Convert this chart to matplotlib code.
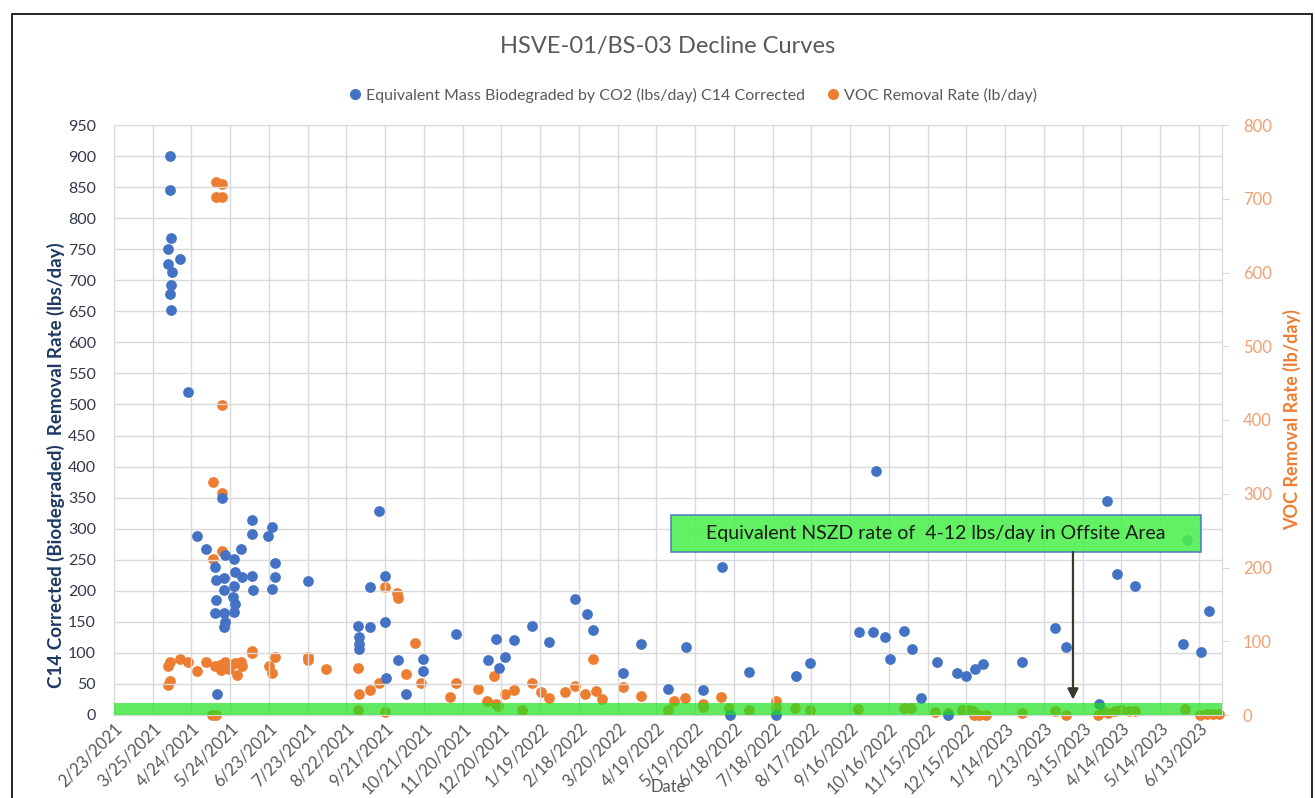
import datetime as dt
import matplotlib
matplotlib.use("Agg")
import matplotlib.pyplot as plt
from matplotlib.ticker import MultipleLocator, FuncFormatter
from matplotlib.patches import Rectangle
from matplotlib.lines import Line2D

plt.rcParams['font.family'] = ['Lato', 'DejaVu Sans']

# ---------------- data ----------------
base_date = dt.date(2021, 2, 23)          # first x tick (day 0)
x_max_days = 858                           # right end of the date axis
tick_step_days = 30

title = "HSVE-01/BS-03 Decline Curves"
co2_label = "Equivalent Mass Biodegraded by CO2 (lbs/day) C14 Corrected"
voc_label = "VOC Removal Rate (lb/day)"
left_ylabel = "C14 Corrected (Biodegraded)  Removal Rate (lbs/day)"
right_ylabel = "VOC Removal Rate (lb/day)"
xlabel = "Date"
note_text = "Equivalent NSZD rate of  4-12 lbs/day in Offsite Area"

# days since base_date, CO2 biodegradation (lbs/day, left axis)
co2_days = [43, 43, 44, 42, 51, 42, 45, 44, 43, 44,
            57, 84,
            107, 122, 107, 119, 64, 71, 98, 86, 93, 125, 78, 94, 99, 107, 125,
            79, 85, 150, 93, 85, 108, 122, 92, 79, 94, 78, 85, 93, 86, 85, 80,
            205, 210, 198, 189, 198, 210, 190, 190, 190, 220, 239, 239, 226, 211,
            265, 296, 290, 298, 303, 310, 324, 337, 357, 366, 371, 394, 408,
            429, 443, 456, 471, 477, 492, 513, 528, 539, 577, 588, 590, 597,
            601, 612, 618, 625, 637, 646, 653, 660, 667, 673, 703, 729, 737,
            763, 769, 777, 791, 828, 831, 842, 848]
co2_lbs = [900, 845, 768, 751, 735, 726, 713, 693, 678, 652,
           520, 349,
           314, 303, 292, 288, 289, 267, 267, 258, 251, 244, 238, 231, 223, 224, 222,
           218, 220, 216, 208, 201, 202, 203, 190, 185, 179, 165, 165, 166, 150, 141, 34,
           329, 224, 206, 144, 142, 149, 126, 115, 106, 88, 90, 71, 34, 59,
           131, 122, 88, 76, 94, 120, 144, 118, 187, 163, 137, 68, 115,
           42, 110, 41, 238, 0, 69, 0, 63, 84, 134, 133, 393, 125,
           90, 136, 106, 27, 86, 0, 67, 63, 74, 82, 85, 140, 110,
           18, 345, 227, 208, 115, 281, 102, 167]

# days since base_date, VOC removal rate (lb/day, right axis)
voc_days = [79, 84, 79, 84, 84, 77, 84, 84, 77,
            43, 42, 51, 57, 64, 71, 78, 86, 90, 94, 98, 83, 95, 107, 107, 125,
            120, 122, 42, 43, 76, 79, 82, 89, 99,
            150, 150, 164, 189, 233, 226, 238, 205, 198, 190, 189, 210, 210, 219, 220,
            260, 265, 282, 294, 289, 296, 297, 303, 310, 316, 324, 331, 337, 349,
            357, 371, 365, 373, 378, 394, 408, 429, 434, 442, 456, 456, 470, 476,
            492, 513, 513, 527, 539, 576, 612, 617, 636, 646, 657, 662, 665, 666,
            670, 675, 703, 729, 737, 762, 766, 770, 775, 780, 786, 791, 829, 841,
            846, 851, 856]
voc_lbs = [723, 720, 702, 702, 420, 316, 301, 222, 212,
           72, 66, 76, 72, 59, 72, 66, 72, 68, 71, 72, 61, 54, 87, 84, 79,
           66, 57, 41, 46, 0, 0, 68, 63, 66,
           79, 75, 63, 64, 98, 55, 44, 43, 34, 28, 7, 4, 173, 165, 158,
           25, 43, 35, 53, 19, 15, 12, 29, 34, 7, 43, 31, 23, 31,
           40, 76, 29, 33, 22, 38, 26, 7, 19, 23, 15, 11, 24, 9,
           7, 19, 9, 9, 7, 8, 9, 9, 4, 3, 7, 7, 6, 0,
           0, 0, 3, 6, 0, 0, 5, 3, 5, 7, 6, 6, 8, 0,
           1, 2, 2]

left_ylim = (0, 950)
left_step = 50
right_ylim = (0, 800)
right_step = 100
nszd_band = (0, 19)   # left-axis units, highlighted NSZD band

# ---------------- style ----------------
BLUE = "#4472C4"
ORANGE = "#ED7D31"
GRID = "#D9D9D9"
TXT = "#595959"
NAVY = "#1F3864"
BAND = "#1EE11E"
BOX = "#4CF04C"

W, H = 1315, 798
fig = plt.figure(figsize=(W / 100, H / 100), dpi=100)
L, R, T, B = 114, 1222, 125, 715
ax = fig.add_axes([L / W, 1 - B / H, (R - L) / W, (B - T) / H])
ax2 = ax.twinx()

# figure border
fig.patches.append(Rectangle((12 / W, -0.05), (1312 - 12) / W, (H - 14) / H + 0.05,
                             transform=fig.transFigure, fill=False,
                             edgecolor="black", linewidth=1.2))

ax.set_xlim(0, x_max_days)
ax.set_ylim(*left_ylim)
ax2.set_ylim(*right_ylim)

ax.xaxis.set_major_locator(MultipleLocator(tick_step_days))
ax.yaxis.set_major_locator(MultipleLocator(left_step))
ax2.yaxis.set_major_locator(MultipleLocator(right_step))

def fmt_date(x, pos):
    d = base_date + dt.timedelta(days=int(round(x)))
    return f"{d.month}/{d.day}/{d.year}"
ax.xaxis.set_major_formatter(FuncFormatter(fmt_date))

ax.grid(True, color=GRID, linewidth=1.0, zorder=0)
ax.set_axisbelow(True)
for a in (ax, ax2):
    for s in a.spines.values():
        s.set_color(GRID)
    a.spines['top'].set_visible(False)

ax.tick_params(axis='x', length=0, labelsize=12, labelcolor=TXT, rotation=45, pad=4)
for lbl in ax.get_xticklabels():
    lbl.set_ha('right')
    lbl.set_rotation_mode('anchor')
ax.tick_params(axis='y', length=0, labelsize=11.5, labelcolor="#33384A", pad=13)
ax2.tick_params(axis='y', length=5, color=GRID, labelsize=12, labelcolor="#F0A070", pad=10)

# scatter series
ax2.scatter(voc_days, voc_lbs, s=60, color=ORANGE, zorder=3, clip_on=False,
            linewidths=0, label=voc_label)
ax.set_zorder(ax2.get_zorder() + 1)
ax.patch.set_visible(False)
ax.scatter(co2_days, co2_lbs, s=60, color=BLUE, zorder=3, clip_on=False,
           linewidths=0, label=co2_label)

# NSZD band over the points
ax.axhspan(nszd_band[0], nszd_band[1], color=BAND, alpha=0.7, zorder=5, linewidth=0)

# annotation box and arrow
ax.add_patch(Rectangle((0.5027, 0.2763), 0.981 - 0.5027, 0.339 - 0.2763,
                       transform=ax.transAxes, facecolor=BOX, alpha=0.88,
                       edgecolor="#4472C4", linewidth=1.2, zorder=6))
ax.text(0.7419, 0.3076, note_text, transform=ax.transAxes, ha='center',
        va='center', fontsize=14, color="#1A1A1A", zorder=7)
ax.annotate("", xy=(0.8655, 0.026), xytext=(0.8655, 0.2763),
            xycoords=ax.transAxes, textcoords=ax.transAxes,
            arrowprops=dict(arrowstyle='-|>', color="#3A3A2A", lw=1.6,
                            mutation_scale=16, shrinkA=0, shrinkB=0),
            zorder=7)

# labels
ax.set_ylabel(left_ylabel, fontsize=13.5, fontweight='bold', color=NAVY)
ax.yaxis.set_label_coords((65 - L) / (R - L), (B - 465) / (B - T))
ax2.set_ylabel(right_ylabel, fontsize=13, fontweight='bold', color=ORANGE)
ax2.yaxis.set_label_coords((1283 - L) / (R - L), (B - 420) / (B - T))
fig.text(668 / W, 1 - 787 / H, xlabel, ha='center', va='center', fontsize=12, color=TXT)
fig.text(668 / W, 1 - 47 / H, title, ha='center', va='center', fontsize=17, color=TXT)

handles = [Line2D([], [], marker='o', linestyle='', color=BLUE, markersize=7),
           Line2D([], [], marker='o', linestyle='', color=ORANGE, markersize=7)]
fig.legend(handles, [co2_label, voc_label], loc='center', ncol=2,
           bbox_to_anchor=(692 / W, 1 - 95 / H), frameon=False, fontsize=11.5,
           labelcolor=TXT, handletextpad=0.2, columnspacing=1.2, handlelength=1.0)

fig.savefig("out.png", dpi=100)
